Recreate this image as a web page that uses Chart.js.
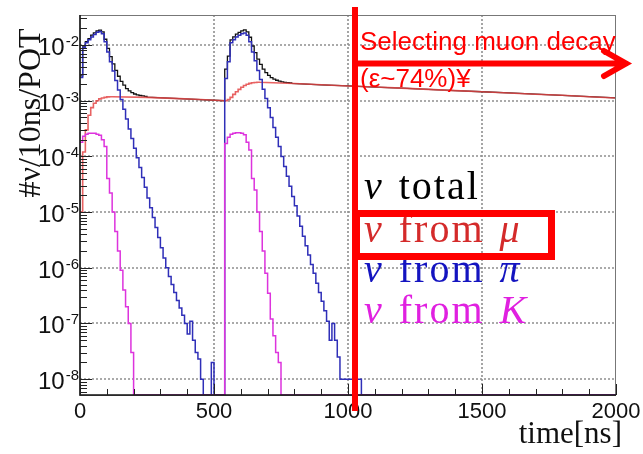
<!DOCTYPE html>
<html>
<head>
<meta charset="utf-8">
<script src="https://cdn.jsdelivr.net/npm/chart.js@4.4.1/dist/chart.umd.min.js"></script>
<style>
  body { margin: 0; background: #fff; }
</style>
</head>
<body>
<canvas id="chart" width="643" height="454"></canvas>
<script>
// histogram bins are 10 ns wide; zero bins sit on the axis floor
const binWidth = 10;
const yMin = 5.2e-9;
const yMax = 3.46e-2;
const tEnd = 2000;
const gridDecades = [-8, -7, -6, -5, -4, -3, -2];
const gridTimes = [500, 1000, 1500];

// nu from pi (blue)
const piStart1 = 0;
const piBins1 = [
  2.6e-3, 9e-3, 1.1e-2, 1.25e-2, 1.4e-2, 1.55e-2, 1.7e-2, 1.75e-2, 1.6e-2, 1.15e-2,
  7.5e-3, 5e-3, 3.4e-3, 2.3e-3, 1.55e-3, 1.05e-3, 7e-4, 4.7e-4, 3.1e-4, 2.1e-4,
  1.4e-4, 9.5e-5, 6.3e-5, 4.2e-5, 2.8e-5, 1.8e-5, 1.2e-5, 8e-6, 5.3e-6, 3.5e-6,
  2.3e-6, 1.5e-6, 1e-6, 7e-7, 5e-7, 3.6e-7, 2.6e-7, 1.9e-7, 1.4e-7, 1e-7,
  6.5e-8, 1.1e-7, 5e-8, 3e-8, 2.3e-8, 1e-8, 0, 0, 0, 2e-8,
  0, 0, 0, 0
];
const piStart2 = 540;
const piBins2 = [
  2.5e-3, 5e-3, 1.1e-2, 1.25e-2, 1.4e-2, 1.5e-2, 1.6e-2, 1.65e-2, 1.5e-2, 1.15e-2,
  7.5e-3, 5.2e-3, 3.5e-3, 2.4e-3, 1.6e-3, 1.1e-3, 7.5e-4, 5e-4, 3.3e-4, 2.2e-4,
  1.5e-4, 1e-4, 6.6e-5, 4.4e-5, 2.9e-5, 1.9e-5, 1.3e-5, 8.5e-6, 5.6e-6, 3.7e-6,
  2.5e-6, 1.7e-6, 1.15e-6, 8e-7, 5.3e-7, 3.6e-7, 2.5e-7, 1.7e-7, 1.1e-7, 5e-8,
  1e-7, 5e-8, 2.5e-8, 1e-8, 1e-8, 1e-8, 1e-8, 1e-8, 1e-8, 1e-8,
  1e-8
];

// nu from K (magenta)
const kStart1 = 0;
const kBins1 = [
  1.8e-4, 2.3e-4, 2.5e-4, 2.6e-4, 2.6e-4, 2.6e-4, 2.5e-4, 2.4e-4, 2e-4, 1.5e-4,
  4e-5, 2.2e-5, 1e-5, 4.5e-6, 2e-6, 9e-7, 4e-7, 2e-7, 1e-7, 3e-8
];
const kStart2 = 540;
const kBins2 = [
  1.7e-4, 2.2e-4, 2.5e-4, 2.6e-4, 2.65e-4, 2.65e-4, 2.6e-4, 2.45e-4, 1.8e-4, 1.3e-4,
  4e-5, 2.5e-5, 1e-5, 4.5e-6, 2e-6, 8e-7, 3.5e-7, 1.2e-7, 6e-8, 3e-8,
  2e-8
];

// nu from mu (red)
const muStart1 = 0;
const muBins1 = [1e-5, 1.2e-4, 3e-4, 5.5e-4, 7.5e-4, 9e-4, 1e-3, 1.08e-3, 1.12e-3, 1.15e-3, 1.17e-3, 1.18e-3];
const muMidT = [120, 250, 350, 450, 540];
const muMidV = [1.18e-3, 1.15e-3, 1.1e-3, 1.05e-3, 1.0e-3];
const muStart2 = 540;
const muBins2 = [1.0e-3, 1.05e-3, 1.15e-3, 1.3e-3, 1.45e-3, 1.6e-3, 1.75e-3, 1.88e-3, 1.98e-3, 2.05e-3, 2.1e-3, 2.13e-3, 2.15e-3];
const muTailT = [670, 800, 900, 1000, 1100, 1200, 1300, 1400, 1500, 1600, 1700, 1800, 1900, 2000];
const muTailV = [2.14e-3, 2.04e-3, 1.93e-3, 1.84e-3, 1.76e-3, 1.68e-3, 1.6e-3, 1.52e-3, 1.45e-3, 1.38e-3, 1.31e-3, 1.25e-3, 1.18e-3, 1.12e-3];

// nu total (black)
const totStart1 = 0;
const totBins1 = [
  2.8e-3, 9.3e-3, 1.15e-2, 1.3e-2, 1.5e-2, 1.65e-2, 1.8e-2, 1.85e-2, 1.72e-2, 1.27e-2,
  8.7e-3, 6.2e-3, 4.6e-3, 3.5e-3, 2.75e-3, 2.22e-3, 1.9e-3, 1.65e-3, 1.5e-3, 1.4e-3,
  1.32e-3, 1.27e-3, 1.24e-3, 1.22e-3, 1.2e-3
];
const totMidT = [250, 350, 450, 540];
const totMidV = [1.16e-3, 1.1e-3, 1.05e-3, 1.0e-3];
const totStart2 = 540;
const totBins2 = [
  3.7e-3, 6.3e-3, 1.24e-2, 1.4e-2, 1.57e-2, 1.69e-2, 1.8e-2, 1.87e-2, 1.72e-2, 1.38e-2,
  9.6e-3, 7.3e-3, 5.6e-3, 4.5e-3, 3.7e-3, 3.2e-3, 2.85e-3, 2.6e-3, 2.45e-3, 2.33e-3,
  2.24e-3, 2.18e-3, 2.14e-3, 2.11e-3, 2.08e-3
];
const totTailT = [790, 900, 1000, 1100, 1200, 1300, 1400, 1500, 1600, 1700, 1800, 1900, 2000];
const totTailV = [2.05e-3, 1.93e-3, 1.84e-3, 1.76e-3, 1.68e-3, 1.6e-3, 1.52e-3, 1.45e-3, 1.38e-3, 1.31e-3, 1.25e-3, 1.18e-3, 1.12e-3];

const yTitle = "#ν/10ns/POT";
const xTitle = "time[ns]";
const legendRows = [
  { color: "#000000", parts: [["ν", true], [" total", false]] },
  { color: "#d42a2a", parts: [["ν", true], [" from ", false], ["μ", true]] },
  { color: "#1414c0", parts: [["ν", true], [" from ", false], ["π", true]] },
  { color: "#e020e0", parts: [["ν", true], [" from ", false], ["K", true]] }
];

const floorZero = v => (v > 0 ? v : yMin);

function steps(start, bins) {
  const pts = [];
  bins.forEach((v, i) => {
    const t0 = start + i * binWidth;
    pts.push({ x: t0, y: floorZero(v) }, { x: t0 + binWidth, y: floorZero(v) });
  });
  return pts;
}

function curve(ts, vs) {
  return ts.map((t, i) => ({ x: t, y: vs[i] }));
}

function series(...parts) {
  const out = [];
  parts.forEach(p => {
    const last = out[out.length - 1];
    if (last && p[0].x > last.x) {
      out.push({ x: last.x, y: yMin }, { x: p[0].x, y: yMin });
    }
    out.push(...p);
  });
  const last = out[out.length - 1];
  if (last.x < tEnd) out.push({ x: last.x, y: yMin }, { x: tEnd, y: yMin });
  return out;
}

const isPow10 = v => {
  const e = Math.round(Math.log10(v));
  return Math.abs(v / Math.pow(10, e) - 1) < 1e-6;
};

const decor = {
  id: "decor",
  beforeDatasetsDraw(chart) {
    // dotted grid at decades and every 500 ns, under the histograms
    const { ctx, chartArea: a, scales } = chart;
    ctx.save();
    ctx.strokeStyle = "#8f8f8f";
    ctx.lineWidth = 1.6;
    ctx.setLineDash([2, 2]);
    ctx.beginPath();
    gridDecades.forEach(e => {
      const py = Math.round(scales.y.getPixelForValue(Math.pow(10, e)));
      ctx.moveTo(a.left, py);
      ctx.lineTo(a.right, py);
    });
    gridTimes.forEach(v => {
      const px = Math.round(scales.x.getPixelForValue(v));
      ctx.moveTo(px, a.top);
      ctx.lineTo(px, a.bottom);
    });
    ctx.stroke();
    ctx.restore();
  },
  afterDraw(chart) {
    const { ctx, chartArea: a, scales } = chart;
    const x = scales.x, y = scales.y;
    ctx.save();

    // frame
    ctx.strokeStyle = "#777";
    ctx.lineWidth = 1;
    ctx.strokeRect(a.left, a.top + 0.5, a.right - a.left - 0.5, a.bottom - a.top);
    ctx.strokeStyle = "#111";
    ctx.lineWidth = 1.5;
    ctx.beginPath();
    ctx.moveTo(a.left, a.top);
    ctx.lineTo(a.left, a.bottom);
    ctx.lineTo(a.right, a.bottom);
    ctx.stroke();

    // inner tick marks
    ctx.lineWidth = 1;
    ctx.strokeStyle = "#222";
    ctx.beginPath();
    y.ticks.forEach(t => {
      const v = t.value;
      const e = Math.floor(Math.log10(v) + 1e-9);
      const m = v / Math.pow(10, e);
      if (Math.abs(m - Math.round(m)) > 1e-6) return;
      const py = Math.round(y.getPixelForValue(v)) + 0.5;
      if (py < a.top || py > a.bottom) return;
      const len = Math.round(m) === 1 ? 12 : 7;
      ctx.moveTo(a.left, py);
      ctx.lineTo(a.left + len, py);
    });
    x.ticks.forEach(t => {
      const px = Math.round(x.getPixelForValue(t.value)) + 0.5;
      const len = t.value % 500 === 0 ? 11 : 6;
      ctx.moveTo(px, a.bottom);
      ctx.lineTo(px, a.bottom - len);
    });
    ctx.stroke();

    // y tick labels 10^n
    ctx.fillStyle = "#111";
    ctx.textBaseline = "alphabetic";
    ctx.textAlign = "left";
    y.ticks.forEach(t => {
      if (!isPow10(t.value)) return;
      const e = Math.round(Math.log10(t.value));
      const py = y.getPixelForValue(t.value);
      ctx.font = '15px "Liberation Sans"';
      const sup = String(e);
      const ws = ctx.measureText(sup).width;
      ctx.fillText(sup, a.left - 1 - ws, py + 1);
      ctx.font = '24px "Liberation Sans"';
      const wb = ctx.measureText("10").width;
      ctx.fillText("10", a.left - 2 - ws - wb, py + 10);
    });

    // x tick labels
    ctx.font = '22px "Liberation Sans"';
    ctx.textAlign = "center";
    x.ticks.forEach(t => {
      if (t.value % 500 !== 0) return;
      ctx.fillText(String(t.value), x.getPixelForValue(t.value), 418);
    });

    // axis titles
    ctx.font = '31px "Liberation Serif"';
    ctx.textAlign = "right";
    ctx.fillText(xTitle, 622, 443);
    ctx.save();
    ctx.translate(40, 113);
    ctx.rotate(-Math.PI / 2);
    ctx.textAlign = "center";
    ctx.font = '32px "Liberation Serif"';
    ctx.fillText(yTitle, 0, 0);
    ctx.restore();

    // legend text
    ctx.textAlign = "left";
    if ("letterSpacing" in ctx) ctx.letterSpacing = "2px";
    const baselines = [199, 242, 282, 323];
    legendRows.forEach((row, i) => {
      let px = 364;
      ctx.fillStyle = row.color;
      row.parts.forEach(([txt, italic]) => {
        ctx.font = (italic ? "italic " : "") + '40px "Liberation Serif"';
        ctx.fillText(txt, px, baselines[i]);
        px += ctx.measureText(txt).width + 3;
      });
    });
    if ("letterSpacing" in ctx) ctx.letterSpacing = "0px";

    // red annotation
    ctx.fillStyle = "#ff0000";
    ctx.strokeStyle = "#ff0000";
    ctx.fillRect(352, 7, 6, 404);
    ctx.lineWidth = 7;
    ctx.strokeRect(356.5, 213.5, 195, 43);
    ctx.lineWidth = 6;
    ctx.lineCap = "round";
    ctx.lineJoin = "miter";
    ctx.beginPath();
    ctx.moveTo(355, 63.5);
    ctx.lineTo(624, 63.5);
    ctx.moveTo(604, 51);
    ctx.lineTo(626, 63.5);
    ctx.lineTo(604, 76);
    ctx.stroke();
    ctx.font = '26px "Liberation Sans"';
    ctx.fillText("Selecting muon decay", 360, 50);
    ctx.fillText("(ε~74%)¥", 360, 87);

    ctx.restore();
  }
};

new Chart(document.getElementById("chart"), {
  type: "line",
  data: {
    datasets: [
      {
        label: "nu from K",
        data: series(steps(kStart1, kBins1), steps(kStart2, kBins2)),
        borderColor: "#dd33dd",
        borderWidth: 1.5
      },
      {
        label: "nu from pi",
        data: series(steps(piStart1, piBins1), steps(piStart2, piBins2)),
        borderColor: "#2f2fb8",
        borderWidth: 1.5
      },
      {
        label: "nu from mu",
        data: series(steps(muStart1, muBins1), curve(muMidT, muMidV), steps(muStart2, muBins2), curve(muTailT, muTailV)),
        borderColor: "rgba(228,70,70,0.85)",
        borderWidth: 1.6
      },
      {
        label: "nu total",
        data: series(steps(totStart1, totBins1), curve(totMidT, totMidV), steps(totStart2, totBins2), curve(totTailT, totTailV)),
        borderColor: "#111111",
        borderWidth: 1.3
      }
    ]
  },
  options: {
    responsive: false,
    devicePixelRatio: 1,
    animation: false,
    layout: { padding: { top: 15, left: 80, right: 27, bottom: 59 } },
    elements: { point: { radius: 0 }, line: { tension: 0 } },
    plugins: { legend: { display: false }, tooltip: { enabled: false } },
    scales: {
      x: {
        type: "linear",
        min: 0,
        max: tEnd,
        ticks: { display: false, stepSize: 100, autoSkip: false },
        grid: { display: false },
        border: { display: false },
        afterFit: s => { s.height = 0; }
      },
      y: {
        type: "logarithmic",
        min: yMin,
        max: yMax,
        ticks: { display: false, autoSkip: false },
        grid: { display: false },
        border: { display: false },
        afterFit: s => { s.width = 0; }
      }
    }
  },
  plugins: [decor]
});
</script>
</body>
</html>
